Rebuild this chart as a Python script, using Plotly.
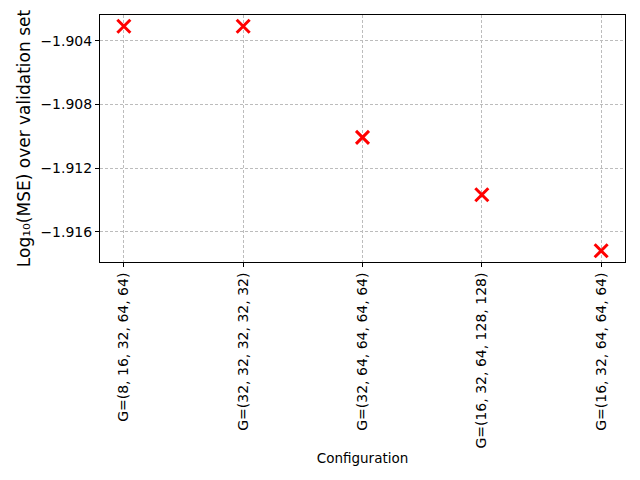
import plotly.graph_objects as go

# data
configs = [
    "G=(8, 16, 32, 64, 64)",
    "G=(32, 32, 32, 32, 32)",
    "G=(32, 64, 64, 64, 64)",
    "G=(16, 32, 64, 128, 128)",
    "G=(16, 32, 64, 64, 64)",
]
log_mse = [-1.90308, -1.90308, -1.91007, -1.91368, -1.9172]
y_ticks = [-1.904, -1.908, -1.912, -1.916]

fig = go.Figure()

fig.add_trace(go.Scatter(
    x=list(range(len(configs))),
    y=log_mse,
    mode="markers",
    marker=dict(symbol="x-thin", size=13, color="red",
                line=dict(width=3, color="red")),
    showlegend=False,
))

# 5% padding like matplotlib
lo, hi = min(log_mse), max(log_mse)
pad = (hi - lo) * 0.05
n = len(configs)

axis_style = dict(
    showline=True, linecolor="black", linewidth=1, mirror=True,
    ticks="outside", ticklen=4, tickcolor="black", tickwidth=1,
    showgrid=True, gridcolor="#bcbcbc", gridwidth=0.6, griddash="3px,2px",
    zeroline=False,
    tickfont=dict(family="DejaVu Sans", size=14, color="black"),
)

fig.update_xaxes(
    **axis_style,
    range=[-0.2, (n - 1) + 0.2],
    tickmode="array",
    tickvals=list(range(n)),
    ticktext=configs,
    tickangle=-90,
    title=dict(text="Configuration", font=dict(family="DejaVu Sans", size=13.5, color="black"),
               standoff=5),
)

fig.update_yaxes(
    **axis_style,
    range=[lo - pad, hi + pad],
    tickmode="array",
    tickvals=y_ticks,
    ticktext=["−1.904", "−1.908", "−1.912", "−1.916"],
    title=dict(text="Log₁₀(MSE) over validation set",
               font=dict(family="DejaVu Sans", size=17, color="black"),
               standoff=5),
)

# page body adds an 8px offset, so margins are shifted to compensate
fig.update_layout(
    width=640, height=480,
    margin=dict(l=92, r=23, t=7, b=226, autoexpand=False),
    plot_bgcolor="white",
    paper_bgcolor="white",
    font=dict(family="DejaVu Sans", color="black"),
)

fig.write_html("out.html")
